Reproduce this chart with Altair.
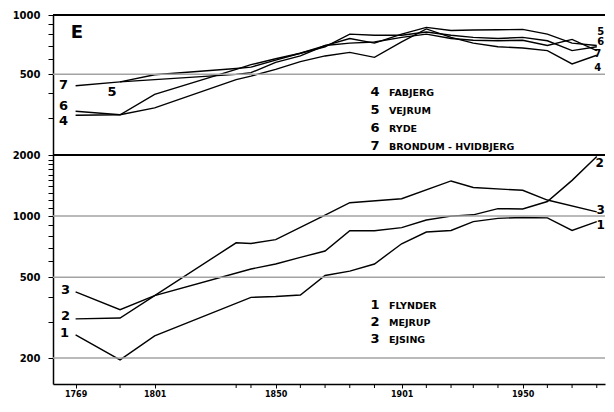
import altair as alt
import pandas as pd

# ---------------- data ----------------
# lower panel (1 FLYNDER, 2 MEJRUP, 3 EJSING)
flynder_years = [1769, 1787, 1801, 1840, 1850, 1860, 1870, 1880, 1890, 1901, 1911, 1921, 1930, 1940, 1950, 1960, 1970, 1980]
flynder_pop = [260, 196, 257, 398, 402, 409, 510, 536, 581, 731, 835, 850, 939, 975, 985, 980, 850, 940]

mejrup_years = [1769, 1787, 1801, 1840, 1850, 1860, 1870, 1880, 1890, 1901, 1911, 1921, 1930, 1940, 1950, 1960, 1970, 1980]
mejrup_pop = [312, 315, 406, 549, 581, 626, 673, 847, 847, 878, 957, 1000, 1015, 1089, 1085, 1180, 1500, 1967]

ejsing_years = [1769, 1787, 1801, 1834, 1840, 1850, 1870, 1880, 1901, 1921, 1930, 1950, 1960, 1980]
ejsing_pop = [424, 346, 406, 739, 733, 766, 1011, 1164, 1218, 1490, 1384, 1340, 1200, 1049]

# upper panel (4 FABJERG, 5 VEJRUM, 6 RYDE, 7 BRONDUM-HVIDBJERG)
top_years = [1769, 1787, 1801, 1834, 1840, 1850, 1860, 1870, 1880, 1890, 1901, 1911, 1921, 1930, 1940, 1950, 1960, 1970, 1980]
fabjerg_pop = [310, 312, 338, 470, 490, 530, 580, 620, 646, 610, 730, 850, 770, 720, 690, 680, 660, 565, 625]
ryde_pop = [325, 312, 396, 530, 560, 600, 640, 690, 800, 790, 790, 820, 790, 770, 760, 770, 740, 660, 690]
brondum_pop = [438, 458, 470, 500, 510, 575, 620, 700, 720, 730, 770, 800, 760, 745, 740, 745, 700, 752, 660]
vejrum_years = [1787, 1801, 1834, 1840, 1850, 1860, 1870, 1880, 1890, 1901, 1911, 1921, 1930, 1940, 1950, 1960, 1970, 1980]
vejrum_pop = [458, 498, 535, 544, 590, 640, 700, 760, 720, 800, 865, 835, 840, 842, 845, 800, 720, 700]

top_legend_nums = ["4", "5", "6", "7"]
top_legend_names = ["FABJERG", "VEJRUM", "RYDE", "BRONDUM - HVIDBJERG"]
bottom_legend_nums = ["1", "2", "3"]
bottom_legend_names = ["FLYNDER", "MEJRUP", "EJSING"]

top_y_ticks = [300, 400, 500, 600, 700, 800, 900, 1000]
top_y_labels = [500, 1000]
bottom_y_ticks = [200, 300, 400, 500, 600, 700, 800, 900, 1000, 1100, 1200, 1300,
                  1400, 1500, 1600, 1700, 1800, 1900, 2000]
bottom_y_labels = [200, 500, 1000, 2000]
x_minor_ticks = [1787, 1834, 1840, 1860, 1870, 1880, 1890, 1911,
                 1921, 1930, 1940, 1960, 1970, 1980]
x_labels = [1769, 1801, 1850, 1901, 1950]
panel_letter = "E"

# ---------------- frames ----------------
def frame(num, years, vals):
    return pd.DataFrame({"series": num, "year": years, "v": vals})

top_series = [("4", top_years, fabjerg_pop), ("5", vejrum_years, vejrum_pop),
              ("6", top_years, ryde_pop), ("7", top_years, brondum_pop)]
bottom_series = [("1", flynder_years, flynder_pop), ("2", mejrup_years, mejrup_pop),
                 ("3", ejsing_years, ejsing_pop)]
top_df = pd.concat([frame(*s) for s in top_series], ignore_index=True)
bottom_df = pd.concat([frame(*s) for s in bottom_series], ignore_index=True)

FONT = "DejaVu Sans"
W = 552
H_TOP = 140
H_BOT = 229
PX_PER_YEAR = 2.47
X0 = 1759.85
x_scale = alt.Scale(domain=[X0, X0 + W / PX_PER_YEAR], nice=False, zero=False)
top_y_scale = alt.Scale(type="log", domain=[195, 1000], nice=False)
bot_y_scale = alt.Scale(type="log", domain=[149, 2000], nice=False)


def label_expr(vals):
    return "indexof([" + ",".join(str(v) for v in vals) + "], datum.value) >= 0 ? datum.label : ''"


def y_axis(ticks, labels):
    return alt.Axis(values=ticks, labelExpr=label_expr(labels), grid=False, title=None,
                    tickSize=5, labelPadding=8, labelFontSize=10, format="d", labelOverlap=False,
                    domainWidth=1.5, domainColor="black", tickColor="black", tickWidth=1,
                    labelFont=FONT, labelFontWeight="bold", labelColor="black")


x_axis = alt.Axis(values=x_labels, grid=False, title=None,
                  tickSize=4, labelPadding=2, labelFontSize=8, format="d", labelOverlap=False,
                  labelFlush=False,
                  domainWidth=1.5, domainColor="black", tickColor="black",
                  labelFont=FONT, labelFontWeight="bold", labelColor="black")


def lines(df, scale, yaxis, xaxis):
    return alt.Chart(df).mark_line(color="black", strokeWidth=1.4).encode(
        x=alt.X("year:Q", scale=x_scale, axis=xaxis),
        y=alt.Y("v:Q", scale=scale, axis=yaxis),
        detail="series:N",
        order="year:Q",
    )


def rules(values, scale, color, width):
    return alt.Chart(pd.DataFrame({"v": values})).mark_rule(color=color, strokeWidth=width).encode(
        y=alt.Y("v:Q", scale=scale))


def end_label(df, num, scale, first, dx, dy, size=13):
    sub = df[df["series"] == num].sort_values("year")
    row = sub.iloc[[0]] if first else sub.iloc[[-1]]
    return alt.Chart(row).mark_text(font=FONT, fontWeight="bold", fontSize=size, dx=dx, dy=dy,
                                    align="center", baseline="middle", color="black").encode(
        x=alt.X("year:Q", scale=x_scale),
        y=alt.Y("v:Q", scale=scale),
        text="series:N",
    )


def legend(nums, names, x_num, x_name, y0, step):
    out = []
    for i, (n, t) in enumerate(zip(nums, names)):
        d = pd.DataFrame({"num": [n], "name": [t]})
        py = y0 + step * i
        out.append(alt.Chart(d).mark_text(font=FONT, fontWeight="bold", fontSize=13, align="center",
                                          baseline="middle", color="black").encode(
            x=alt.value(x_num), y=alt.value(py), text="num:N"))
        out.append(alt.Chart(d).mark_text(font=FONT, fontWeight="bold", fontSize=9.5, align="left",
                                          baseline="middle", color="black").encode(
            x=alt.value(x_name), y=alt.value(py + 1), text="name:N"))
    return out


GRID = "#a3a3a3"

# ---------------- top panel ----------------
top_layers = [
    lines(top_df, top_y_scale, y_axis(top_y_ticks, top_y_labels), None),
    rules([500], top_y_scale, GRID, 1.5),
    rules([1000], top_y_scale, "black", 2),
    end_label(top_df, "7", top_y_scale, True, -12, -1),
    end_label(top_df, "5", top_y_scale, True, -8, 10),
    end_label(top_df, "6", top_y_scale, True, -12, -5),
    end_label(top_df, "4", top_y_scale, True, -12, 6),
    end_label(top_df, "5", top_y_scale, False, 4, -14, 10),
    end_label(top_df, "6", top_y_scale, False, 4, -5, 10),
    end_label(top_df, "7", top_y_scale, False, 1, 3, 10),
    end_label(top_df, "4", top_y_scale, False, 1, 13, 10),
    *legend(top_legend_nums, top_legend_names, 322, 336, 77, 18),
    alt.Chart(pd.DataFrame({"t": [panel_letter]})).mark_text(
        font=FONT, fontWeight="bold", fontSize=18, align="center", baseline="middle", color="black"
    ).encode(x=alt.value(24), y=alt.value(18), text="t:N"),
]
top = alt.layer(*top_layers).properties(width=W, height=H_TOP)

# ---------------- bottom panel ----------------
minor_ticks = alt.Chart(pd.DataFrame({"year": x_minor_ticks})).mark_rule(
    color="black", strokeWidth=1).encode(
    x=alt.X("year:Q", scale=x_scale), y=alt.value(H_BOT), y2=alt.value(H_BOT + 4))

bottom_layers = [
    lines(bottom_df, bot_y_scale, y_axis(bottom_y_ticks, bottom_y_labels), x_axis),
    rules([200, 500, 1000], bot_y_scale, GRID, 1.5),
    rules([2000], bot_y_scale, "black", 2),
    minor_ticks,
    end_label(bottom_df, "3", bot_y_scale, True, -10, -2),
    end_label(bottom_df, "2", bot_y_scale, True, -10, -3),
    end_label(bottom_df, "1", bot_y_scale, True, -11, -2),
    end_label(bottom_df, "2", bot_y_scale, False, 3, 7, 12),
    end_label(bottom_df, "3", bot_y_scale, False, 4, -2, 12),
    end_label(bottom_df, "1", bot_y_scale, False, 4, 3, 12),
    *legend(bottom_legend_nums, bottom_legend_names, 322, 336, 150, 17),
]
bottom = alt.layer(*bottom_layers).properties(width=W, height=H_BOT)

chart = alt.vconcat(top, bottom, spacing=0, bounds="flush").properties(
    padding={"left": 4, "top": 2, "right": 0, "bottom": 0}
).configure_view(stroke=None).configure_concat(spacing=0)

chart.save("out.html", embed_options={"renderer": "svg", "actions": False})
